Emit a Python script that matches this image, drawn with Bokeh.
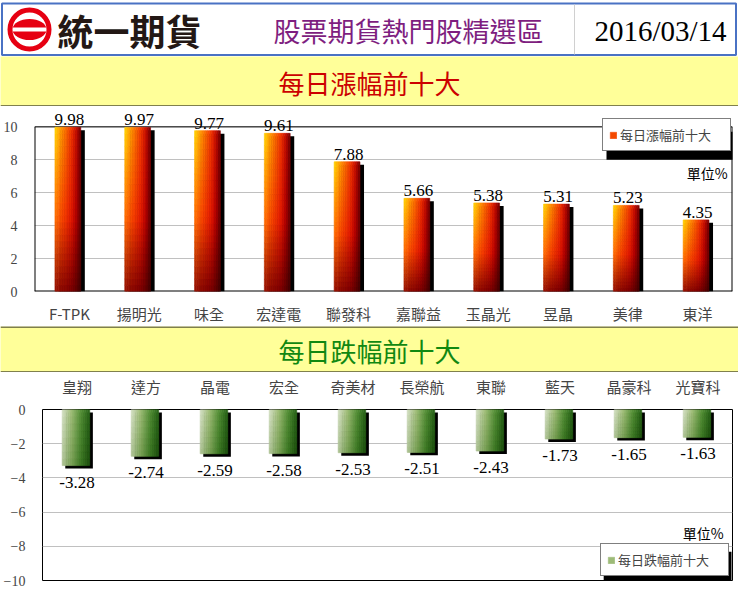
import numpy as np
from bokeh.plotting import figure
from bokeh.models import (ColumnDataSource, FactorRange, Range1d, FixedTicker,
                          Legend, LegendItem, Label)
from bokeh.layouts import column
from bokeh.core.properties import value
from bokeh.embed import file_html
from bokeh.resources import INLINE

# ---------------- data ----------------
gain_names = ["F-TPK", "揚明光", "味全", "宏達電", "聯發科", "嘉聯益", "玉晶光", "昱晶", "美律", "東洋"]
gain_values = [9.98, 9.97, 9.77, 9.61, 7.88, 5.66, 5.38, 5.31, 5.23, 4.35]
loss_names = ["皇翔", "達方", "晶電", "宏全", "奇美材", "長榮航", "東聯", "藍天", "晶豪科", "光寶科"]
loss_values = [-3.28, -2.74, -2.59, -2.58, -2.53, -2.51, -2.43, -1.73, -1.65, -1.63]
gain_ticks = [0, 2, 4, 6, 8, 10]
loss_ticks = [0, -2, -4, -6, -8, -10]

company = "統一期貨"
page_title = "股票期貨熱門股精選區"
page_date = "2016/03/14"
gain_title = "每日漲幅前十大"
loss_title = "每日跌幅前十大"
unit_text = "單位%"

# ---------------- styles / layout constants ----------------
CJK_NAME = "Noto Sans CJK TC"
SERIF_NAME = "Liberation Serif"
CJK = value(CJK_NAME)
SERIF = value(SERIF_NAME)
W = 738
YELLOW = "#FFFF99"
LEG_W, LEG_H, SH = 128, 29, 4   # legend box size and shadow offset (px)

RED_ROWS = [
    (0.0, [(0.0, (150, 15, 0)), (0.3, (140, 8, 0)), (0.65, (125, 0, 0)), (0.85, (95, 0, 0)), (1.0, (65, 0, 0))]),
    (0.45, [(0.0, (255, 110, 0)), (0.3, (250, 70, 0)), (0.65, (228, 25, 0)), (0.85, (175, 0, 0)), (1.0, (100, 0, 0))]),
    (1.0, [(0.0, (255, 215, 0)), (0.3, (255, 140, 0)), (0.65, (242, 55, 0)), (0.85, (195, 12, 0)), (1.0, (115, 0, 0))]),
]
GREEN_ROWS = [
    (0.0, [(0.0, (175, 195, 150)), (0.35, (120, 160, 85)), (0.7, (60, 120, 35)), (1.0, (30, 80, 15))]),
    (1.0, [(0.0, (215, 225, 200)), (0.35, (160, 190, 120)), (0.7, (85, 145, 55)), (1.0, (40, 100, 25))]),
]


def mix(c1, c2, t):
    return tuple(c1[k] + (c2[k] - c1[k]) * t for k in range(3))


def interp(stops, u):
    for (p0, c0), (p1, c1) in zip(stops[:-1], stops[1:]):
        if u <= p1:
            return mix(c0, c1, (u - p0) / (p1 - p0))
    return stops[-1][1]


def grad_color(rows, u, w):
    cols = [(rw, interp(st, u)) for rw, st in rows]
    c = interp(cols, w)
    return "#%02x%02x%02x" % tuple(int(round(max(0, min(255, x)))) for x in c)


def gradient_bars(p, vals, bar_w, shift, rows, nu, nv):
    L, R, B, T, C = [], [], [], [], []
    for j, v in enumerate(vals):
        xc = j + 0.5 + shift
        lo, hi = min(0.0, v), max(0.0, v)
        for a in range(nv):
            y0 = lo + (hi - lo) * a / nv
            y1 = lo + (hi - lo) * (a + 1) / nv
            w = (a + 0.5) / nv
            for i in range(nu):
                u = (i + 0.5) / nu
                L.append(xc - bar_w / 2 + bar_w * i / nu)
                R.append(xc - bar_w / 2 + bar_w * (i + 1) / nu)
                B.append(y0)
                T.append(y1)
                C.append(grad_color(rows, u, w))
    src = ColumnDataSource(dict(left=L, right=R, bottom=B, top=T, color=C))
    return p.quad(left="left", right="right", bottom="bottom", top="top",
                  fill_color="color", line_color="color", line_width=0.6, source=src)


def shadows(p, vals, bar_w, shift, dx, dy):
    xs = np.arange(len(vals)) + 0.5 + shift
    v = np.array(vals)
    top = np.where(v > 0, v - dy, -dy)
    bottom = np.where(v > 0, 0, v - dy)
    p.quad(left=xs - bar_w / 2 + dx, right=xs + bar_w / 2 + dx, top=top, bottom=bottom,
           fill_color="black", line_color=None)


def value_labels(p, names, vals, baseline, offset):
    factors = list(p.x_range.factors)
    for n, v in zip(names, vals):
        xs = factors.index(n) + 0.5   # synthetic coordinate of the category centre
        p.add_layout(Label(x=xs, y=v, text="%.2f" % v, text_align="center",
                           text_baseline=baseline, y_offset=offset, text_font=SERIF_NAME,
                           text_font_size="17px", text_color="black"))


def plain(height, bg):
    f = figure(width=W, height=height, x_range=Range1d(0, W), y_range=Range1d(height, 0),
               toolbar_location=None, output_backend="svg", x_axis_type=None, y_axis_type=None,
               min_border=0, background_fill_color=bg, border_fill_color=bg,
               outline_line_color=None, frame_align=False)
    return f


def style_axes(p):
    p.xgrid.visible = False
    p.ygrid.grid_line_color = "#c0c0c0"
    for ax in (p.xaxis, p.yaxis):
        ax.axis_line_color = None
        ax.major_tick_line_color = None
        ax.minor_tick_line_color = None
    p.yaxis.major_label_text_font = SERIF_NAME
    p.yaxis.major_label_text_font_size = "14px"
    p.yaxis.major_label_standoff = 11
    p.xaxis.major_label_text_font = CJK_NAME
    p.xaxis.major_label_text_font_size = "15px"


def make_legend(label, renderer, idx, loc):
    return Legend(items=[LegendItem(label=label, renderers=[renderer], index=idx)],
                  location=loc, margin=0, padding=6, spacing=0,
                  glyph_width=8, glyph_height=8, label_standoff=3,
                  label_text_font=CJK_NAME, label_text_font_size="13px",
                  label_width=104, label_height=14,
                  border_line_color="black", border_line_width=1,
                  background_fill_color="white", background_fill_alpha=1)


def legend_shadow(p, left_px, top_px, pxu_x, pxu_y, y_top):
    # black drop shadow behind a legend box given in frame pixels
    p.quad(left=[(left_px + SH) / pxu_x], right=[(left_px + LEG_W + SH) / pxu_x],
           top=[y_top - (top_px + SH) / pxu_y], bottom=[y_top - (top_px + LEG_H + SH) / pxu_y],
           fill_color="black", line_color=None)


# ---------------- header ----------------
hdr = plain(56, "white")
hdr.quad(left=[1.5], right=[735.5], top=[3], bottom=[54.5], fill_color=None,
         line_color="#4A72C4", line_width=2)
hdr.segment(x0=[574], y0=[4], x1=[574], y1=[54], line_color="#d0d0d0", line_width=1)
hdr.ellipse(x=[29], y=[29], width=34, height=21, fill_color="#E60012", line_color=None)
hdr.rect(x=[29], y=[29], width=36, height=4, fill_color="white", line_color=None)
hdr.circle(x=[29], y=[29], radius=19.5, fill_color=None, line_color="#E60012", line_width=5)
hdr.text(x=[57], y=[29], text=[company], text_align="left", text_baseline="middle",
         text_font=CJK, text_font_size="36px", text_font_style="bold", text_color="#231815")
hdr.text(x=[408], y=[30], text=[page_title], text_align="center", text_baseline="middle",
         text_font=CJK, text_font_size="27px", text_color="#7E1E80")
hdr.text(x=[660], y=[30], text=[page_date], text_align="center", text_baseline="middle",
         text_font=SERIF, text_font_size="29px", text_color="black")

# ---------------- band 1 ----------------
band1 = plain(50, YELLOW)
band1.text(x=[W / 2], y=[26], text=[gain_title], text_align="center", text_baseline="middle",
           text_font=CJK, text_font_size="26px", text_color="#CC0000")
band1.segment(x0=[0], y0=[49.5], x1=[W], y1=[49.5], line_color="black", line_width=1)

# ---------------- chart 1 (gains) ----------------
FW1, PXU1, EXTRA1 = 698, 17.0, 19      # frame width, px per unit, room above 10 for labels
y_end1 = gain_ticks[-1] + EXTRA1 / PXU1
p1 = figure(width=W, height=220, x_range=FactorRange(factors=gain_names),
            y_range=Range1d(gain_ticks[0], y_end1),
            toolbar_location=None, output_backend="svg", frame_align=False,
            min_border_left=34, min_border_right=6, min_border_top=2, min_border_bottom=29,
            background_fill_color="white", border_fill_color="white", outline_line_color=None)
style_axes(p1)
p1.yaxis.ticker = FixedTicker(ticks=gain_ticks)
p1.xaxis.major_label_standoff = 5

n1 = len(gain_names)
y0, y1 = gain_ticks[0], gain_ticks[-1]
p1.segment(x0=[0, n1, 0, 0], y0=[y0, y0, y0, y1], x1=[0, n1, n1, n1], y1=[y1, y1, y0, y1],
           line_color="black", line_width=[2, 2, 2, 1])

shadows(p1, gain_values, 0.37, -0.022, 0.058, 0.18)
r1 = gradient_bars(p1, gain_values, 0.37, -0.022, RED_ROWS, 14, 26)
value_labels(p1, gain_names, gain_values, "bottom", 2)
p1.add_layout(Label(x=9.93, y=7.2, text=unit_text, text_align="right", text_baseline="middle",
                    text_font=CJK_NAME, text_font_size="14px", text_color="black"))
leg1_left, leg1_top = FW1 - 2 - LEG_W, EXTRA1 + 1
legend_shadow(p1, leg1_left, leg1_top, FW1 / n1, PXU1, y_end1)
p1.add_layout(make_legend(gain_title, r1, 18 * 14 + 6,
                          (leg1_left, 189 - leg1_top - LEG_H)))

# ---------------- band 2 ----------------
band2 = plain(46, YELLOW)
band2.segment(x0=[0], y0=[0.5], x1=[W], y1=[0.5], line_color="black", line_width=1)
band2.segment(x0=[0], y0=[45.5], x1=[W], y1=[45.5], line_color="black", line_width=1)
band2.text(x=[W / 2], y=[24], text=[loss_title], text_align="center", text_baseline="middle",
           text_font=CJK, text_font_size="26px", text_color="#118811")

# ---------------- chart 2 (losses) ----------------
FW2, FH2 = 691, 173
PXU2 = FH2 / 10.0
p2 = figure(width=W, height=224, x_range=FactorRange(factors=loss_names),
            y_range=Range1d(loss_ticks[-1], loss_ticks[0]),
            x_axis_location="above", frame_align=False,
            toolbar_location=None, output_backend="svg",
            min_border_left=41, min_border_right=6, min_border_top=35, min_border_bottom=16,
            background_fill_color="white", border_fill_color="white",
            outline_line_color="black", outline_line_width=1)
style_axes(p2)
p2.yaxis.ticker = FixedTicker(ticks=loss_ticks)
p2.xaxis.major_label_standoff = 7

n2 = len(loss_names)
shadows(p2, loss_values, 0.40, -0.015, 0.045, 0.17)
r2 = gradient_bars(p2, loss_values, 0.40, -0.015, GREEN_ROWS, 14, 8)
value_labels(p2, loss_names, loss_values, "top", -11)
p2.add_layout(Label(x=9.87, y=-7.2, text=unit_text, text_align="right", text_baseline="middle",
                    text_font=CJK_NAME, text_font_size="14px", text_color="black"))
leg2_left, leg2_top = FW2 - 5 - LEG_W, FH2 - 4 - LEG_H
legend_shadow(p2, leg2_left, leg2_top, FW2 / n2, PXU2, loss_ticks[0])
p2.add_layout(make_legend(loss_title, r2, 6 * 14 + 4, (leg2_left, 4)))

layout = column(hdr, band1, p1, band2, p2, spacing=0)
open("out.html", "w").write(file_html(layout, INLINE))
